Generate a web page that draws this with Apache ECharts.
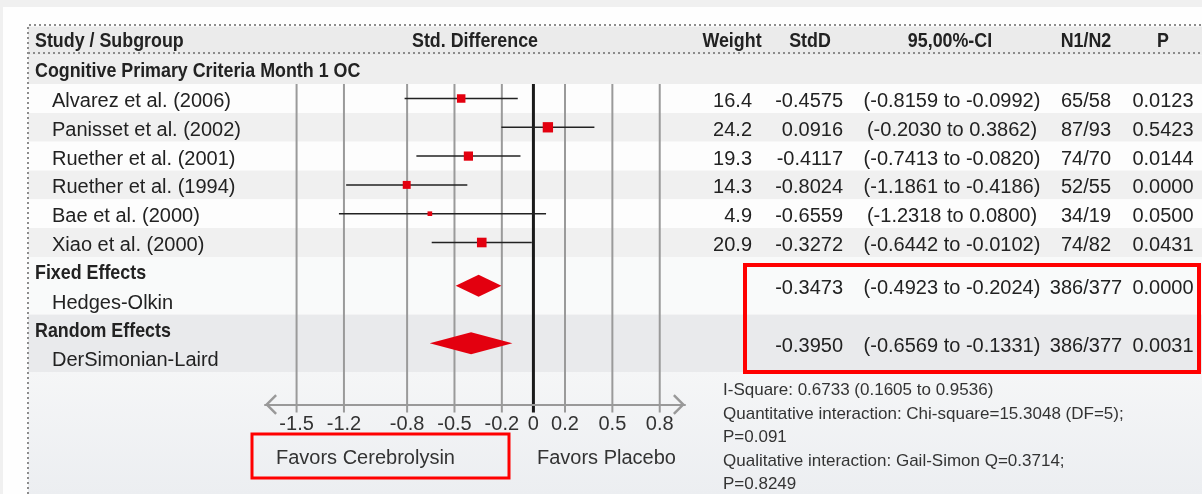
<!DOCTYPE html>
<html>
<head>
<meta charset="utf-8">
<title>Forest plot</title>
<script src="https://cdn.jsdelivr.net/npm/echarts@6/dist/echarts.min.js"></script>
<style>
html, body { margin: 0; padding: 0; background: #f0f0f0; }
#chart { width: 1202px; height: 494px; }
</style>
</head>
<body>
<div id="chart"></div>
<script>
var subgroup = 'Cognitive Primary Criteria Month 1 OC';
var studies = ['Alvarez et al. (2006)', 'Panisset et al. (2002)', 'Ruether et al. (2001)',
    'Ruether et al. (1994)', 'Bae et al. (2000)', 'Xiao et al. (2000)'];
var weights = [16.4, 24.2, 19.3, 14.3, 4.9, 20.9];
var stdD = [-0.4575, 0.0916, -0.4117, -0.8024, -0.6559, -0.3272];
var ciLow = [-0.8159, -0.2030, -0.7413, -1.1861, -1.2318, -0.6442];
var ciHigh = [-0.0992, 0.3862, -0.0820, -0.4186, 0.0800, -0.0102];
var nCounts = ['65/58', '87/93', '74/70', '52/55', '34/19', '74/82'];
var pValues = ['0.0123', '0.5423', '0.0144', '0.0000', '0.0500', '0.0431'];

var pooledGroups = ['Fixed Effects', 'Random Effects'];
var pooledMethods = ['Hedges-Olkin', 'DerSimonian-Laird'];
var pooledStdD = [-0.3473, -0.3950];
var pooledLow = [-0.4923, -0.6569];
var pooledHigh = [-0.2024, -0.1331];
var pooledN = ['386/377', '386/377'];
var pooledP = ['0.0000', '0.0031'];

var tickValues = [-1.5, -1.2, -0.8, -0.5, -0.2, 0, 0.2, 0.5, 0.8];
var headers = ['Study / Subgroup', 'Std. Difference', 'Weight', 'StdD', '95,00%-CI', 'N1/N2', 'P'];
var favorLabels = ['Favors Cerebrolysin', 'Favors Placebo'];
var statsLines = [
    'I-Square: 0.6733 (0.1605 to 0.9536)',
    'Quantitative interaction: Chi-square=15.3048 (DF=5);',
    'P=0.091',
    'Qualitative interaction: Gail-Simon Q=0.3714;',
    'P=0.8249'
];

var chart = echarts.init(document.getElementById('chart'));

// rows are counted in half-row units so pooled values can sit between two rows
var ROW_MAX = 26.25;
var font = '"Liberation Sans", Arial, sans-serif';
var boldFont = 'bold 21px "Liberation Sans", Arial, sans-serif';
var squeeze = 0.85; // condensed look of the bold headings
var red = '#e3000f';

function studyRow(i) { return 5 + 2 * i; }
function pooledRow(k) { return 18 + 4 * k; }

var boldRows = [[3, subgroup]];
var nameCol = {}, weightCol = {}, stdCol = {}, ciCol = {}, nCol = {}, pCol = {};
function ciText(lo, hi) { return '(' + lo.toFixed(4) + ' to ' + hi.toFixed(4) + ')'; }
studies.forEach(function (s, i) {
    var r = studyRow(i);
    nameCol[r] = s;
    weightCol[r] = weights[i].toFixed(1);
    stdCol[r] = stdD[i].toFixed(4);
    ciCol[r] = ciText(ciLow[i], ciHigh[i]);
    nCol[r] = nCounts[i];
    pCol[r] = pValues[i];
});
pooledGroups.forEach(function (g, k) {
    var r = pooledRow(k);
    boldRows.push([r - 1, g]);
    nameCol[r + 1] = pooledMethods[k];
    stdCol[r] = pooledStdD[k].toFixed(4);
    ciCol[r] = ciText(pooledLow[k], pooledHigh[k]);
    nCol[r] = pooledN[k];
    pCol[r] = pooledP[k];
});

// background bands: header, subgroup, studies, two pooled blocks
var bandColors = ['#ebebeb', '#eeeeee', '#fdfdfd', '#f0f0f0', '#f9fafa', '#e9eaec'];
var bands = [[0, 2, 0], [2, 4, 1]];
studies.forEach(function (s, i) { bands.push([4 + 2 * i, 6 + 2 * i, 2 + (i % 2)]); });
pooledGroups.forEach(function (g, k) { bands.push([16 + 4 * k, 20 + 4 * k, 4 + k]); });

function rowAxis(gridIndex, labels, position, offset, align) {
    return {
        type: 'value', gridIndex: gridIndex, position: position, offset: offset,
        min: 0, max: ROW_MAX, interval: 1, inverse: true, z: 10,
        show: !!labels,
        axisLine: { show: false }, axisTick: { show: false }, splitLine: { show: false },
        axisLabel: {
            margin: 0, align: align, color: '#222', fontSize: 20, fontFamily: font,
            formatter: function (v) {
                var t = labels && labels[v];
                return t ? '{t|' + t + '}' : '';
            },
            rich: {
                t: { color: '#222', fontSize: 20, fontFamily: font, padding: [6, 0, 0, 0] }
            }
        }
    };
}

var chevron = 'path://M0,10 L10,0 L20,10 L18.3,11.7 L10,3.4 L1.7,11.7 Z';

option = {
    animation: false,
    backgroundColor: '#f0f0f0',
    grid: [
        { left: 265, right: 517, top: 26.5, height: 378, outerBoundsMode: 'none' },
        { left: 28, right: 0, top: 26.5, height: 378, outerBoundsMode: 'none' }
    ],
    xAxis: [{
        type: 'value', gridIndex: 0, min: -1.7, max: 0.96, position: 'bottom', z: 10,
        axisLine: {
            onZero: false,
            lineStyle: { color: '#999', width: 2 },
            symbol: [chevron, chevron], symbolSize: [24, 12], symbolOffset: [6, -6]
        },
        axisTick: { show: false },
        splitLine: { show: false },
        axisLabel: {
            customValues: tickValues, margin: 10, color: '#333', fontSize: 20, fontFamily: font,
            formatter: function (v) { return String(v); }
        }
    }, {
        type: 'value', gridIndex: 1, min: 0, max: 1, show: false
    }],
    yAxis: [
        rowAxis(0, null, 'left', 0, 'left'),
        rowAxis(1, null, 'left', 0, 'left'),
        rowAxis(0, nameCol, 'left', 213, 'left'),
        rowAxis(0, weightCol, 'right', 67, 'right'),
        rowAxis(0, stdCol, 'right', 158, 'right'),
        rowAxis(0, ciCol, 'right', 267, 'center'),
        rowAxis(0, nCol, 'right', 401, 'center'),
        rowAxis(0, pCol, 'right', 478, 'center')
    ],
    graphic: [
        { type: 'rect', z: 0, shape: { x: 3, y: 7, width: 1199, height: 487 }, style: { fill: '#fefefe' } },
        {
            type: 'rect', z: 0, shape: { x: 28, y: 371, width: 1174, height: 123 },
            style: {
                fill: new echarts.graphic.LinearGradient(0, 0, 0, 1, [
                    { offset: 0, color: '#f5f6f7' }, { offset: 1, color: '#eceef1' }
                ])
            }
        },
        {
            type: 'polyline', z: 20, shape: { points: [[28, 494], [28, 25], [1202, 25]] },
            style: { stroke: '#8c8c8c', lineWidth: 2, lineDash: [2, 3], fill: null }
        },
        {
            type: 'line', z: 20, shape: { x1: 28, y1: 53, x2: 1202, y2: 53 },
            style: { stroke: '#8c8c8c', lineWidth: 2, lineDash: [2, 3] }
        }
    ].concat(headers.map(function (h, i) {
        var xs = [35, 475, 732, 810, 950, 1086, 1163];
        return {
            type: 'text', z: 20, x: xs[i], y: 41, scaleX: squeeze,
            style: {
                text: h, align: i === 0 ? 'left' : 'center', verticalAlign: 'middle',
                font: boldFont, fill: '#222'
            }
        };
    })).concat(favorLabels.map(function (t, i) {
        return {
            type: 'text', z: 20, x: [276, 537][i], y: 458,
            style: { text: t, verticalAlign: 'middle', font: '20px ' + font, fill: '#333' }
        };
    })).concat([
        {
            type: 'text', z: 20, x: 723, y: 379,
            style: { text: statsLines.join('\n'), lineHeight: 23.5, font: '17px ' + font, fill: '#333' }
        },
        {
            type: 'rect', z: 25, shape: { x: 252, y: 434, width: 257, height: 44 },
            style: { stroke: '#ff0000', lineWidth: 3, fill: null }
        },
        {
            type: 'rect', z: 25, shape: { x: 745, y: 265, width: 454, height: 107 },
            style: { stroke: '#ff0000', lineWidth: 4, fill: null }
        }
    ]),
    series: [{
        // row bands
        type: 'custom', xAxisIndex: 1, yAxisIndex: 1, z: 1, silent: true,
        encode: { y: [0, 1] },
        data: bands,
        renderItem: function (params, api) {
            var a = api.coord([0, api.value(0)]);
            var b = api.coord([1, api.value(1)]);
            return {
                type: 'rect', shape: { x: a[0], y: a[1], width: b[0] - a[0], height: b[1] - a[1] },
                style: { fill: bandColors[api.value(2)] }
            };
        }
    }, {
        // bold subgroup headings, left column
        type: 'custom', xAxisIndex: 1, yAxisIndex: 1, z: 12, silent: true, clip: false,
        encode: { y: 0 },
        data: boldRows.map(function (b) { return [b[0]]; }),
        renderItem: function (params, api) {
            var p = api.coord([0, api.value(0)]);
            return {
                type: 'text', x: p[0] + 7, y: p[1] + 2, scaleX: squeeze,
                style: { text: boldRows[params.dataIndex][1], verticalAlign: 'middle', font: boldFont, fill: '#222' }
            };
        }
    }, {
        // vertical grid lines at the tick values, zero line heavier
        type: 'custom', xAxisIndex: 0, yAxisIndex: 0, z: 2, silent: true, clip: false,
        encode: { x: 0 },
        data: tickValues.map(function (v) { return [v]; }),
        renderItem: function (params, api) {
            var v = api.value(0);
            var top = api.coord([v, 4]);
            var bottom = api.coord([v, ROW_MAX]);
            return {
                type: 'line',
                shape: { x1: top[0], y1: top[1], x2: bottom[0], y2: bottom[1] + 8 },
                style: v === 0 ? { stroke: '#1a1a1a', lineWidth: 3 } : { stroke: '#9a9a9a', lineWidth: 2 }
            };
        }
    }, {
        // study estimates with confidence intervals
        type: 'custom', xAxisIndex: 0, yAxisIndex: 0, z: 3, clip: false,
        encode: { x: [0, 1, 2], y: 3 },
        data: studies.map(function (s, i) {
            return [stdD[i], ciLow[i], ciHigh[i], studyRow(i), weights[i]];
        }),
        renderItem: function (params, api) {
            var r = api.value(3);
            var a = api.coord([api.value(1), r]);
            var b = api.coord([api.value(2), r]);
            var c = api.coord([api.value(0), r]);
            var s = 2.1 * Math.sqrt(api.value(4));
            return {
                type: 'group', children: [
                    { type: 'line', shape: { x1: a[0], y1: a[1], x2: b[0], y2: b[1] }, style: { stroke: '#222', lineWidth: 1.5 } },
                    { type: 'rect', shape: { x: c[0] - s / 2, y: c[1] - s / 2, width: s, height: s }, style: { fill: red } }
                ]
            };
        }
    }, {
        // pooled diamonds
        type: 'custom', xAxisIndex: 0, yAxisIndex: 0, z: 3, clip: false,
        encode: { x: [0, 1, 2], y: 3 },
        data: pooledGroups.map(function (g, k) {
            return [pooledStdD[k], pooledLow[k], pooledHigh[k], pooledRow(k)];
        }),
        renderItem: function (params, api) {
            var r = api.value(3);
            var a = api.coord([api.value(1), r]);
            var b = api.coord([api.value(2), r]);
            var c = api.coord([api.value(0), r]);
            var h = 11;
            return {
                type: 'polygon',
                shape: { points: [[a[0], a[1]], [c[0], c[1] - h], [b[0], b[1]], [c[0], c[1] + h]] },
                style: { fill: red }
            };
        }
    }]
};

chart.setOption(option);
</script>
</body>
</html>
